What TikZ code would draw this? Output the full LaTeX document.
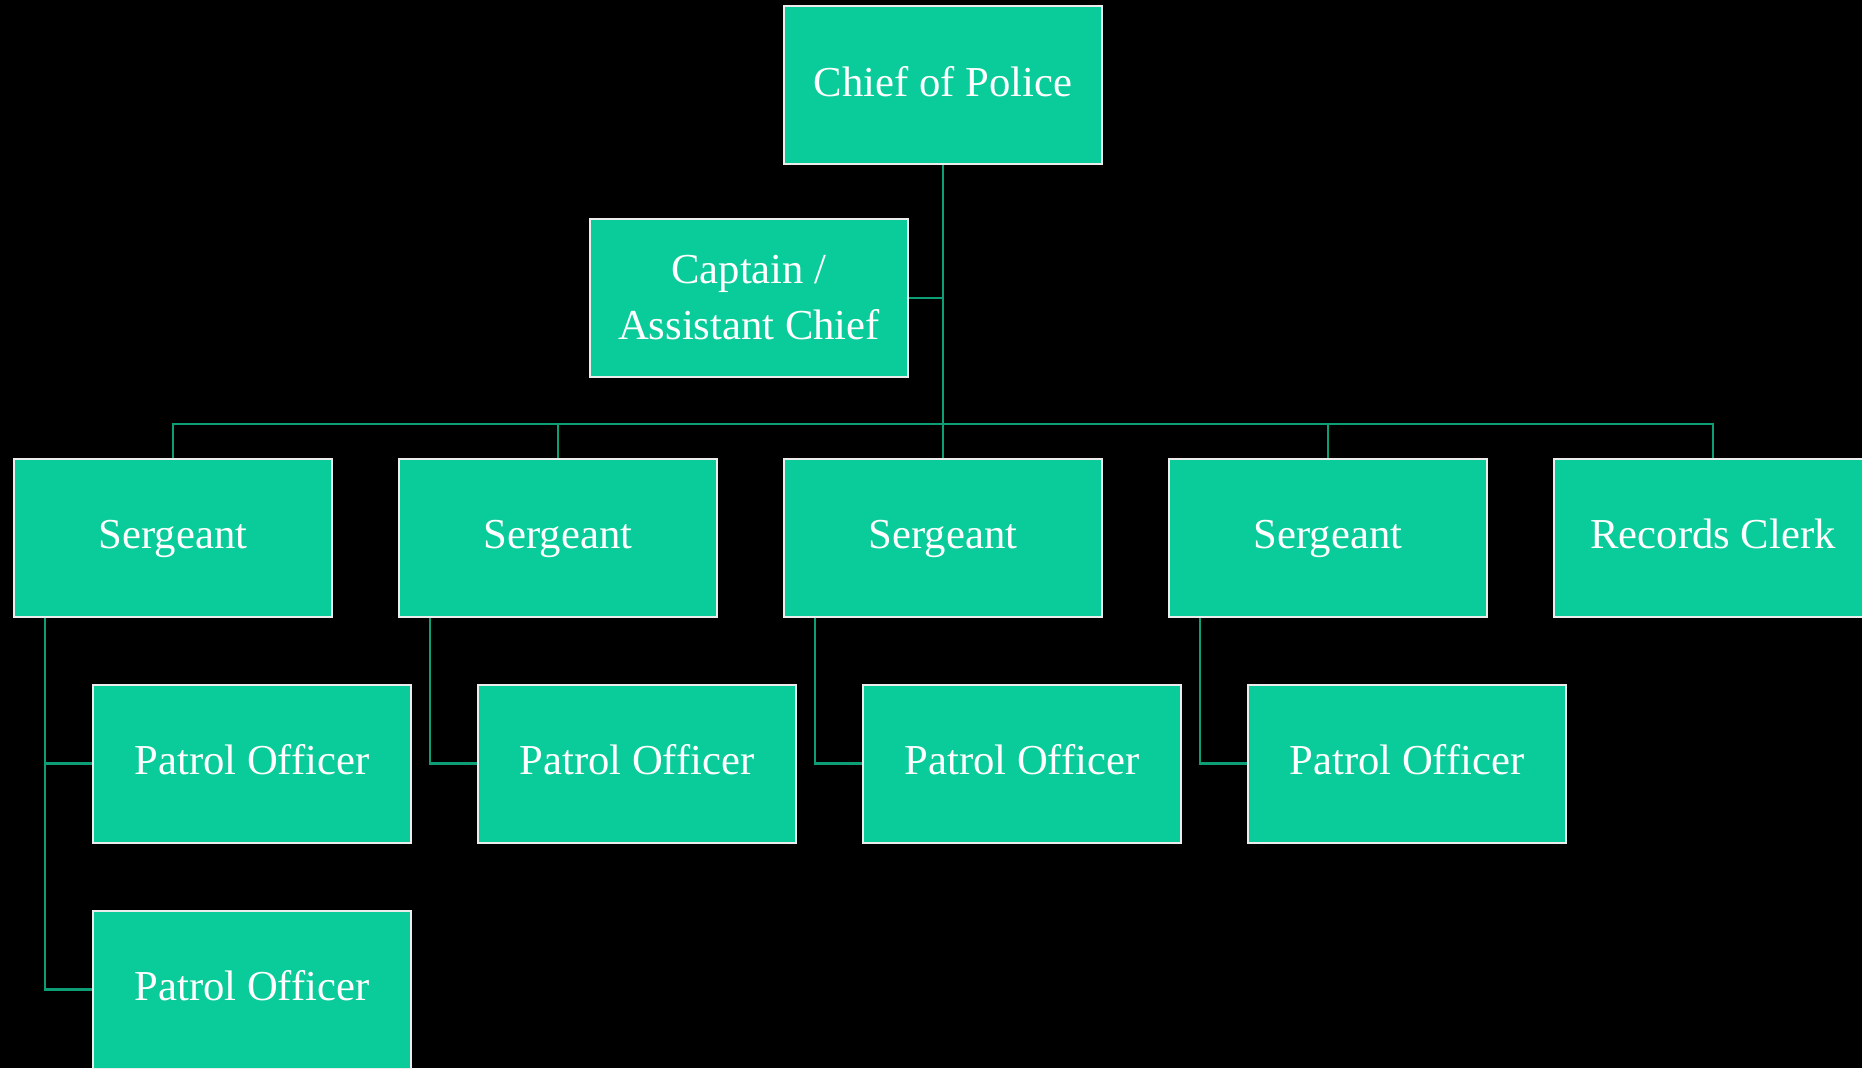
\documentclass[tikz,border=0pt]{standalone}
\usepackage{fontspec}
\setmainfont{Liberation Serif}
\usepackage{tikz}
\definecolor{verde}{RGB}{10,204,154}
\definecolor{borde}{RGB}{236,236,236}
\definecolor{enlace}{RGB}{14,158,118}
\tikzstyle{linea} = [line width=2.2pt, draw=enlace]
\tikzstyle{puesto} = [rectangle,
                      minimum width=238.5pt,
                      minimum height=118.5pt,
                      inner sep=0pt,
                      text centered,
                      align=center,
                      text=white,
                      line width=1.5pt,
                      draw=borde,
                      fill=verde,
                      font=\fontsize{32}{42}\selectfont]
\tikzstyle{puesto1} = [puesto,
                       execute at begin node=\strut,
                       execute at end node=\strut]

\begin{document}
\begin{tikzpicture}[x=0.75pt, y=-0.75pt, node distance=288.75pt]
        \fill [black] (0,0) rectangle (1862,1068);
        \useasboundingbox (0,0) rectangle (1862,1068);

        \node (Jefe) [puesto1] at (943,85) {Chief of Police};
        \node (Capitan) [puesto, below of=Jefe, node distance=159.75pt, xshift=-145.5pt] {Captain /\\ Assistant Chief};

        \node (SgtA) [puesto1] at (173,537.5) {Sergeant};
        \node (SgtB) [puesto1, right of=SgtA] {Sergeant};
        \node (SgtC) [puesto1, right of=SgtB] {Sergeant};
        \node (SgtD) [puesto1, right of=SgtC] {Sergeant};
        \node (Archivo) [puesto1, right of=SgtD] {Records Clerk};

        \node (PatA) [puesto1, below of=SgtA, node distance=169.5pt, xshift=59.25pt] {Patrol Officer};
        \node (PatA2) [puesto1, below of=PatA, node distance=169.5pt] {Patrol Officer};
        \node (PatB) [puesto1, below of=SgtB, node distance=169.5pt, xshift=59.25pt] {Patrol Officer};
        \node (PatC) [puesto1, below of=SgtC, node distance=169.5pt, xshift=59.25pt] {Patrol Officer};
        \node (PatD) [puesto1, below of=SgtD, node distance=169.5pt, xshift=59.25pt] {Patrol Officer};

        \coordinate (Bus) at (943,424);

        \draw [linea] (Jefe) -- (Bus);
        \draw [linea] (Capitan.east) -- (Capitan.east -| Jefe.south);
        \draw [linea] (Bus) -| (SgtA);
        \draw [linea] (Bus) -| (SgtB);
        \draw [linea] (Bus) -- (SgtC);
        \draw [linea] (Bus) -| (SgtD);
        \draw [linea] (Bus) -| (Archivo);
        \draw [linea] ([xshift=24pt]SgtA.south west) |- (PatA.west);
        \draw [linea] ([xshift=24pt]SgtA.south west) |- (PatA2.west);
        \draw [linea] ([xshift=24pt]SgtB.south west) |- (PatB.west);
        \draw [linea] ([xshift=24pt]SgtC.south west) |- (PatC.west);
        \draw [linea] ([xshift=24pt]SgtD.south west) |- (PatD.west);
    \end{tikzpicture}
\end{document}
